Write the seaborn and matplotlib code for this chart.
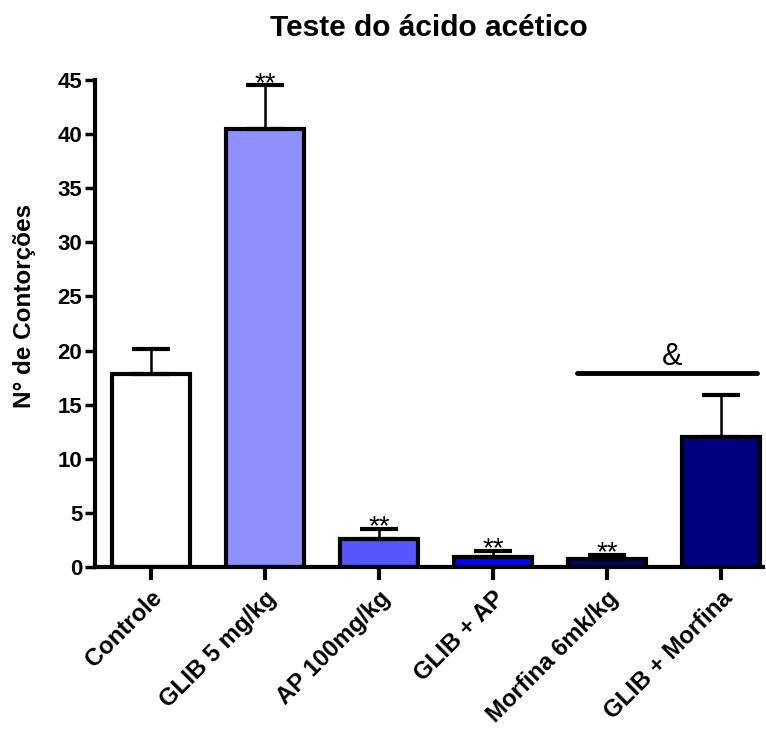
import matplotlib
matplotlib.use("Agg")
import matplotlib.pyplot as plt
import matplotlib.transforms as mtransforms
import seaborn as sns
import pandas as pd
import numpy as np

categories = ["Controle", "GLIB 5 mg/kg", "AP 100mg/kg", "GLIB + AP", "Morfina 6mk/kg", "GLIB + Morfina"]
means = [17.8, 40.5, 2.6, 0.9, 0.7, 12.0]
sem = [2.3, 4.0, 0.9, 0.6, 0.4, 3.9]
colors = ["#FFFFFF", "#8F8FFF", "#5757FF", "#0000FF", "#00007F", "#00007F"]
stars = ["", "**", "**", "**", "**", ""]
bracket_y = 17.9
bracket_label = "&"
yticks = [0, 5, 10, 15, 20, 25, 30, 35, 40, 45]

sns.set_theme(style="ticks")
plt.rcParams['font.family'] = ['Liberation Sans', 'DejaVu Sans']
for k in ["text.color", "axes.labelcolor", "xtick.color", "ytick.color", "axes.edgecolor"]:
    plt.rcParams[k] = "black"

df = pd.DataFrame({"grupo": categories, "valor": means})

fig = plt.figure(figsize=(7.66, 7.29), dpi=100)
ax = fig.add_axes([95/766, 162/729, 668/766, 487/729])

sns.barplot(data=df, x="grupo", y="valor", hue="grupo", palette=colors,
            order=categories, hue_order=categories, legend=False,
            width=0.68, edgecolor="black", linewidth=3, ax=ax, errorbar=None, saturation=1)

x = np.arange(len(categories))
ax.errorbar(x, means, yerr=[np.zeros(len(sem)), sem], fmt="none", ecolor="black",
            elinewidth=1.8, capsize=13.5, capthick=3, zorder=1)

for xi, m, s, st in zip(x, means, sem, stars):
    if st:
        ax.text(xi, m + s - 0.5, st, ha="center", va="baseline", fontsize=20, color="black")

ax.plot([3.74, 5.32], [bracket_y, bracket_y], color="black", lw=3.5, clip_on=False)
ax.text(4.57, bracket_y + 0.74, bracket_label, ha="center", va="baseline", fontsize=22, color="black")

ax.set_xlim(-0.49, 5.37)
ax.set_ylim(0, 45)
ax.set_yticks(yticks)
ax.set_yticklabels([str(t) for t in yticks], fontsize=16, fontweight="bold")
ax.set_xticks(x)
ax.set_xticklabels(categories, rotation=45, ha="right", rotation_mode="anchor",
                   fontsize=17.2, fontweight="bold")
offset = mtransforms.ScaledTranslation(-6/100, 2/100, fig.dpi_scale_trans)
for lbl in ax.get_xticklabels():
    lbl.set_transform(lbl.get_transform() + offset)
ax.set_xlabel("")
ax.set_ylabel("N° de Contorções", fontsize=17.5, fontweight="bold")
ax.yaxis.set_label_coords(-0.088, 0.536)
ax.set_title("Teste do ácido acético", fontsize=21.5, fontweight="bold", pad=32)

sns.despine(ax=ax)
for sp in ["left", "bottom"]:
    ax.spines[sp].set_linewidth(3)
    ax.spines[sp].set_color("black")
ax.tick_params(axis="y", length=7, width=2.5, color="black", pad=2)
ax.tick_params(axis="x", length=9, width=3, color="black", pad=5)

fig.savefig("out.png", dpi=100, facecolor="white")
